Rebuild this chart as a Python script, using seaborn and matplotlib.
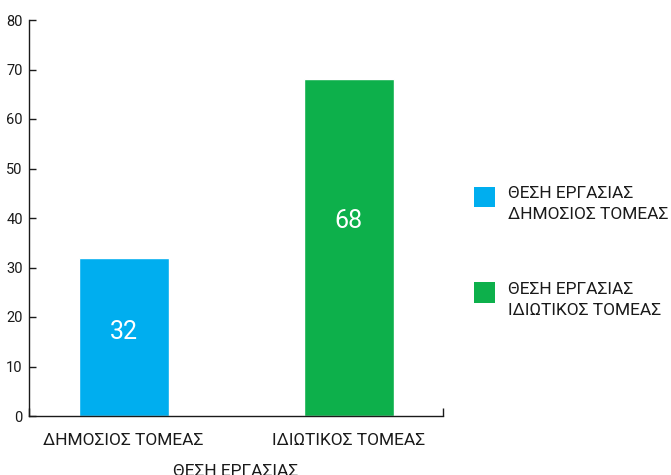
import matplotlib
matplotlib.use("Agg")
import matplotlib.pyplot as plt
import seaborn as sns
import pandas as pd
from matplotlib.patches import Patch, Rectangle
from matplotlib.legend_handler import HandlerPatch

categories = ["ΔΗΜΟΣΙΟΣ ΤΟΜΕΑΣ", "ΙΔΙΩΤΙΚΟΣ ΤΟΜΕΑΣ"]
values = [32, 68]
legend_labels = ["ΘΕΣΗ ΕΡΓΑΣΙΑΣ\nΔΗΜΟΣΙΟΣ ΤΟΜΕΑΣ", "ΘΕΣΗ ΕΡΓΑΣΙΑΣ\nΙΔΙΩΤΙΚΟΣ ΤΟΜΕΑΣ"]
colors = ["#00AEEF", "#0DB04B"]
x_title = "ΘΕΣΗ ΕΡΓΑΣΙΑΣ"
y_ticks = [0, 10, 20, 30, 40, 50, 60, 70, 80]
label_frac = [0.53, 0.58]  # vertical position of value labels within bars

sns.set_theme(style="white")
plt.rcParams['font.family'] = ['Roboto', 'DejaVu Sans']

df = pd.DataFrame({"cat": categories, "val": values})
ink = '#1a1a1a'

fig = plt.figure(figsize=(6.71, 4.75), dpi=100)
ax = fig.add_axes([29/671, 1-416/475, (443-29)/671, (416-20)/475])
sns.barplot(data=df, x="cat", y="val", hue="cat", palette=colors, width=0.4,
            dodge=False, legend=False, ax=ax, saturation=1)

ax.set_xlim(-0.42, 1.42)
ax.set_ylim(0, 80)
ax.set_yticks(y_ticks)
ax.tick_params(axis='y', left=True, direction='in', length=5, width=1, color=ink,
               labelsize=10.5, pad=4.5, labelcolor=ink)
ax.tick_params(axis='x', bottom=True, length=0, labelsize=12.5, pad=12, labelcolor=ink)
ax.set_xticks([-0.42, 1.42], minor=True)
ax.tick_params(axis='x', which='minor', bottom=True, direction='in', length=6, width=1, color=ink)
for s in ['top', 'right']:
    ax.spines[s].set_visible(False)
for s in ['left', 'bottom']:
    ax.spines[s].set_color(ink)
    ax.spines[s].set_linewidth(1)
ax.set_ylabel("")
ax.set_xlabel(x_title, fontsize=12.5, color=ink, labelpad=12)

for i, v in enumerate(values):
    ax.text(i, v * label_frac[i], str(v), ha='center', va='center', color='white', fontsize=18)


def raised_square(legend, orig_handle, xdescent, ydescent, width, height, fontsize):
    return Rectangle((-xdescent, -ydescent + 5.5), width, height)


handles = [Patch(facecolor=c, edgecolor='none') for c in colors]
leg = fig.legend(handles, legend_labels, loc='upper left', bbox_to_anchor=(474/671, 1-186/475),
                 frameon=False, fontsize=12.5, handlelength=1.2, handleheight=1.4,
                 labelspacing=3.45, handletextpad=0.75, borderpad=0, borderaxespad=0,
                 labelcolor=ink, handler_map={Patch: HandlerPatch(patch_func=raised_square)})
for t in leg.get_texts():
    t.set_linespacing(1.5)

fig.savefig("out.png", dpi=100)
